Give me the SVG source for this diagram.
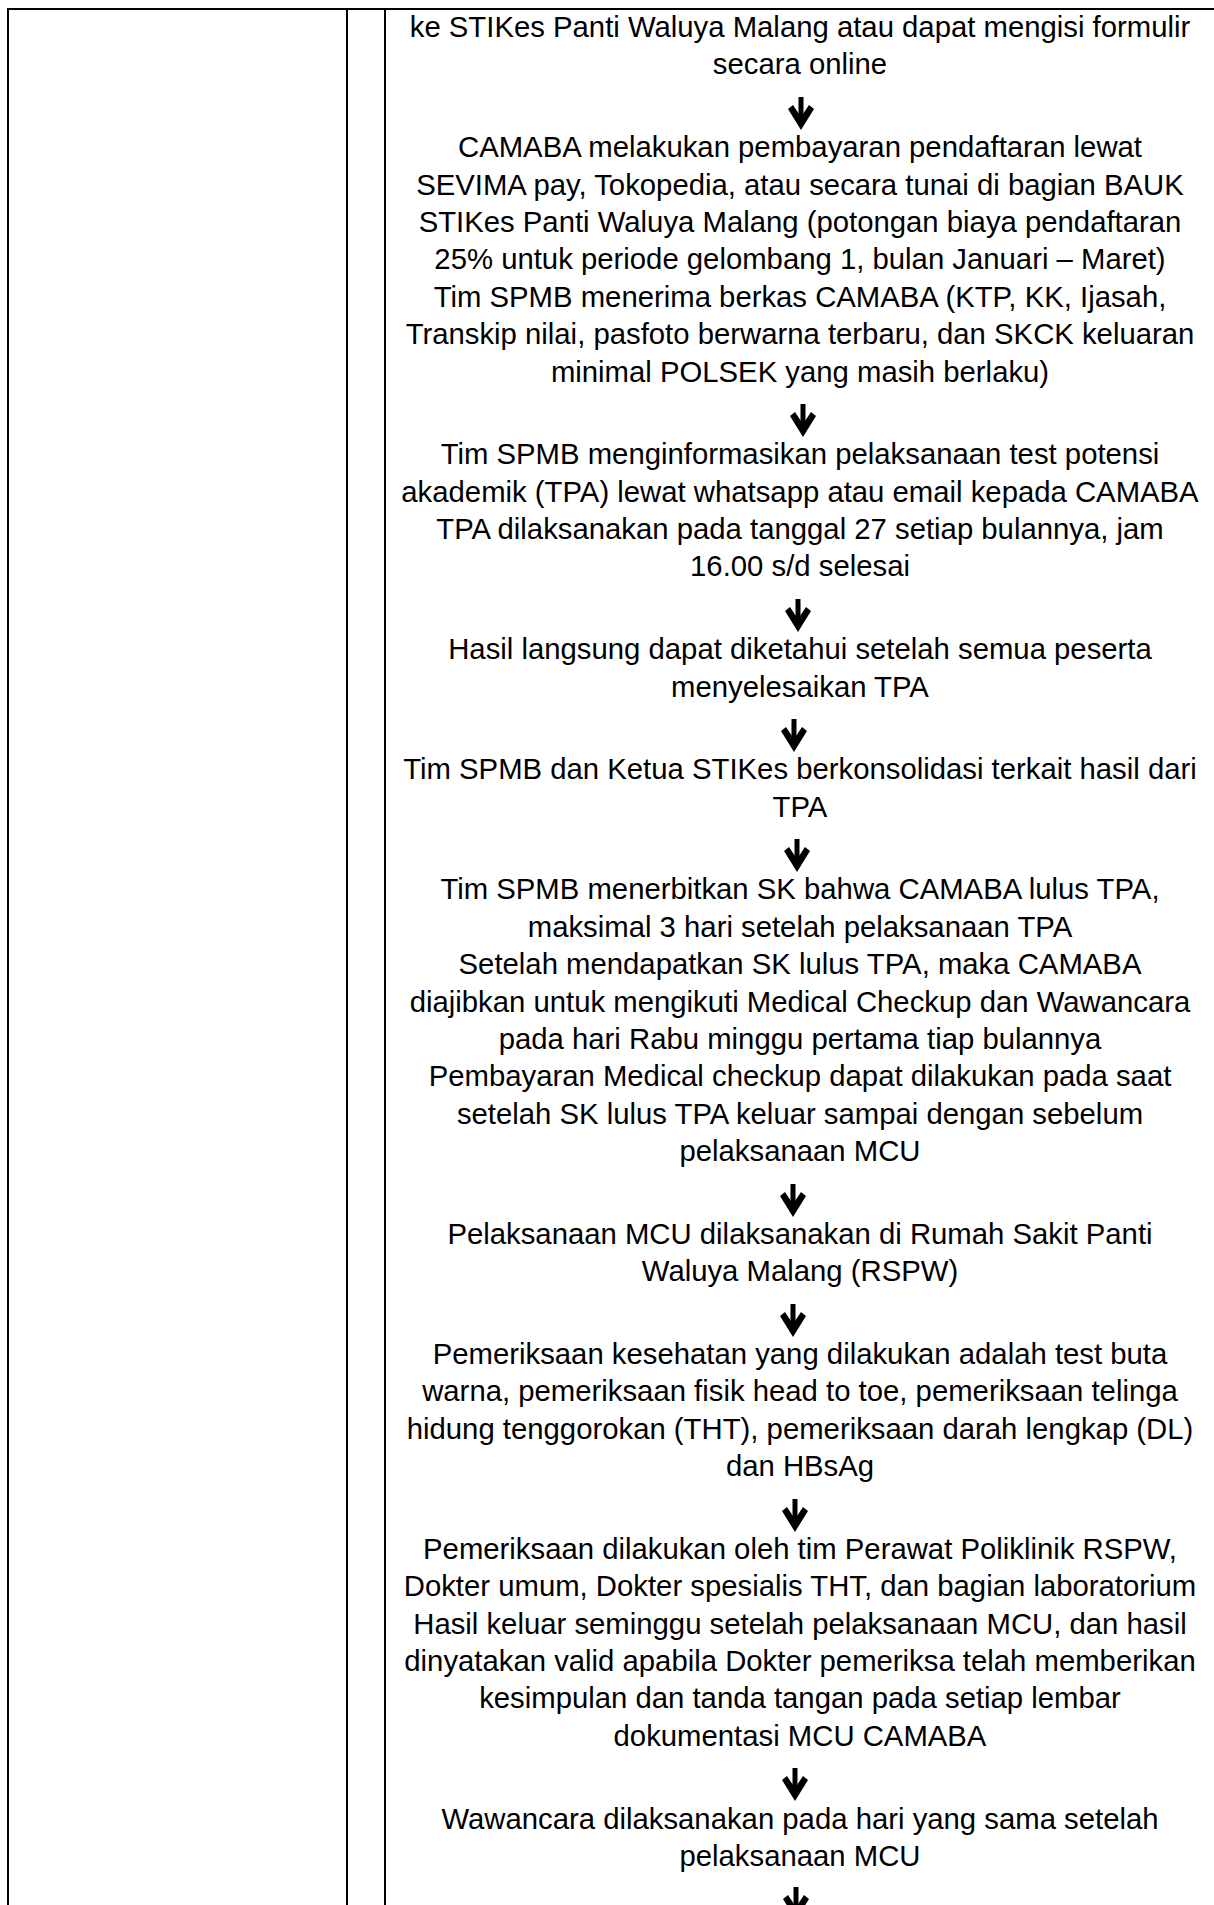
<svg xmlns="http://www.w3.org/2000/svg" width="1214" height="1905" viewBox="0 0 1214 1905">
<style>
.grid{stroke:#000;stroke-width:2;fill:none}
.t{font-family:"Liberation Sans",Arial,sans-serif;font-size:29.3px;fill:#000;text-anchor:middle}
.shaft{stroke:#000;stroke-width:5;fill:none}
.head{fill:#000;stroke:none}
</style>
<defs>
<g id="arr">
<line class="shaft" x1="0" y1="0" x2="0" y2="26"/>
<polygon class="head" points="-13,12 -8,8 0,20 8,8 13,12 0,33"/>
</g>
</defs>
<rect width="1214" height="1905" fill="#fff"/>
<g id="table">
<line class="grid" x1="7" y1="9" x2="1214" y2="9"/>
<line class="grid" x1="8" y1="8" x2="8" y2="1905"/>
<line class="grid" x1="347" y1="8" x2="347" y2="1905"/>
<line class="grid" x1="385" y1="8" x2="385" y2="1905"/>
</g>
<g id="p1" class="t">
<text x="800" y="37">ke STIKes Panti Waluya Malang atau dapat mengisi formulir</text>
<text x="800" y="74.4">secara online</text>
</g>
<g id="p2" class="t">
<text x="800" y="157.1">CAMABA melakukan pembayaran pendaftaran lewat</text>
<text x="800" y="194.5">SEVIMA pay, Tokopedia, atau secara tunai di bagian BAUK</text>
<text x="800" y="231.9">STIKes Panti Waluya Malang (potongan biaya pendaftaran</text>
<text x="800" y="269.3">25% untuk periode gelombang 1, bulan Januari – Maret)</text>
<text x="800" y="306.7">Tim SPMB menerima berkas CAMABA (KTP, KK, Ijasah,</text>
<text x="800" y="344.1">Transkip nilai, pasfoto berwarna terbaru, dan SKCK keluaran</text>
<text x="800" y="381.5">minimal POLSEK yang masih berlaku)</text>
</g>
<g id="p3" class="t">
<text x="800" y="464.2">Tim SPMB menginformasikan pelaksanaan test potensi</text>
<text x="800" y="501.6">akademik (TPA) lewat whatsapp atau email kepada CAMABA</text>
<text x="800" y="539">TPA dilaksanakan pada tanggal 27 setiap bulannya, jam</text>
<text x="800" y="576.4">16.00 s/d selesai</text>
</g>
<g id="p4" class="t">
<text x="800" y="659.1">Hasil langsung dapat diketahui setelah semua peserta</text>
<text x="800" y="696.5">menyelesaikan TPA</text>
</g>
<g id="p5" class="t">
<text x="800" y="779.2">Tim SPMB dan Ketua STIKes berkonsolidasi terkait hasil dari</text>
<text x="800" y="816.6">TPA</text>
</g>
<g id="p6" class="t">
<text x="800" y="899.3">Tim SPMB menerbitkan SK bahwa CAMABA lulus TPA,</text>
<text x="800" y="936.7">maksimal 3 hari setelah pelaksanaan TPA</text>
<text x="800" y="974.1">Setelah mendapatkan SK lulus TPA, maka CAMABA</text>
<text x="800" y="1011.5">diajibkan untuk mengikuti Medical Checkup dan Wawancara</text>
<text x="800" y="1048.9">pada hari Rabu minggu pertama tiap bulannya</text>
<text x="800" y="1086.3">Pembayaran Medical checkup dapat dilakukan pada saat</text>
<text x="800" y="1123.7">setelah SK lulus TPA keluar sampai dengan sebelum</text>
<text x="800" y="1161.1">pelaksanaan MCU</text>
</g>
<g id="p7" class="t">
<text x="800" y="1243.8">Pelaksanaan MCU dilaksanakan di Rumah Sakit Panti</text>
<text x="800" y="1281.2">Waluya Malang (RSPW)</text>
</g>
<g id="p8" class="t">
<text x="800" y="1363.9">Pemeriksaan kesehatan yang dilakukan adalah test buta</text>
<text x="800" y="1401.3">warna, pemeriksaan fisik head to toe, pemeriksaan telinga</text>
<text x="800" y="1438.7">hidung tenggorokan (THT), pemeriksaan darah lengkap (DL)</text>
<text x="800" y="1476.1">dan HBsAg</text>
</g>
<g id="p9" class="t">
<text x="800" y="1558.8">Pemeriksaan dilakukan oleh tim Perawat Poliklinik RSPW,</text>
<text x="800" y="1596.2">Dokter umum, Dokter spesialis THT, dan bagian laboratorium</text>
<text x="800" y="1633.6">Hasil keluar seminggu setelah pelaksanaan MCU, dan hasil</text>
<text x="800" y="1671">dinyatakan valid apabila Dokter pemeriksa telah memberikan</text>
<text x="800" y="1708.4">kesimpulan dan tanda tangan pada setiap lembar</text>
<text x="800" y="1745.8">dokumentasi MCU CAMABA</text>
</g>
<g id="p10" class="t">
<text x="800" y="1828.5">Wawancara dilaksanakan pada hari yang sama setelah</text>
<text x="800" y="1865.9">pelaksanaan MCU</text>
</g>
<g id="connectors">
<use href="#arr" x="801" y="97"/>
<use href="#arr" x="803" y="404"/>
<use href="#arr" x="798" y="599"/>
<use href="#arr" x="794" y="719"/>
<use href="#arr" x="797" y="839"/>
<use href="#arr" x="793" y="1184"/>
<use href="#arr" x="793" y="1304"/>
<use href="#arr" x="795" y="1499"/>
<use href="#arr" x="795" y="1768"/>
<use href="#arr" x="796" y="1887"/>
</g>
</svg>
